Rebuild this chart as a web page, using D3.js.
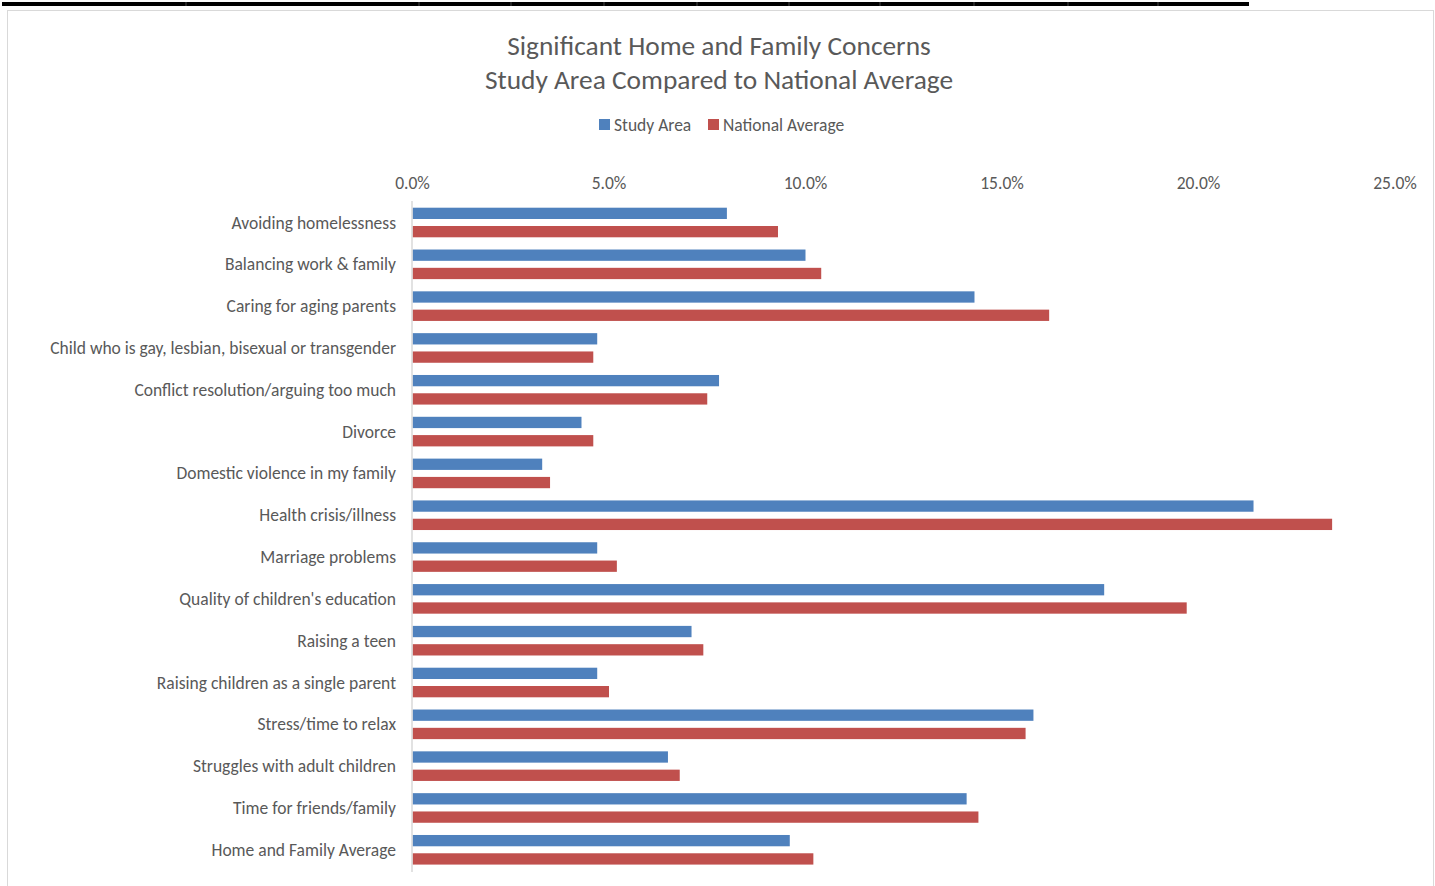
<!DOCTYPE html>
<html lang="en">
	<head>
	<meta charset="UTF-8">
		<title>Significant Home and Family Concerns</title>
		<style>
			body { margin: 0; background: #fff; }
			text { font-family: Carlito, Calibri, Lato, sans-serif; fill: #595959; }
		</style>
	</head>
	<body>
		<svg id='chart'></svg>

		<script src='https://d3js.org/d3.v7.min.js'></script>
		<script>
			const categories = [
				'Avoiding homelessness',
				'Balancing work & family',
				'Caring for aging parents',
				'Child who is gay, lesbian, bisexual or transgender',
				'Conflict resolution/arguing too much',
				'Divorce',
				'Domestic violence in my family',
				'Health crisis/illness',
				'Marriage problems',
				"Quality of children's education",
				'Raising a teen',
				'Raising children as a single parent',
				'Stress/time to relax',
				'Struggles with adult children',
				'Time for friends/family',
				'Home and Family Average'
			];
			const studyArea = [8.0, 10.0, 14.3, 4.7, 7.8, 4.3, 3.3, 21.4, 4.7, 17.6, 7.1, 4.7, 15.8, 6.5, 14.1, 9.6];
			const nationalAverage = [9.3, 10.4, 16.2, 4.6, 7.5, 4.6, 3.5, 23.4, 5.2, 19.7, 7.4, 5.0, 15.6, 6.8, 14.4, 10.2];
			const seriesNames = ['Study Area', 'National Average'];
			const xTicks = [0, 5, 10, 15, 20, 25];
			const colors = ['#4f81bd', '#c0504d'];

			const width = 1435;
			const height = 886;
			const labelSize = '17.5px';

			const svg = d3.select('#chart')
				.attr('width', width)
				.attr('height', height);

			// spreadsheet strip above the chart
			svg.append('rect')
				.attr('x', 2).attr('y', 2)
				.attr('width', 1247).attr('height', 4)
				.attr('fill', '#000');
			[186, 419, 511, 604, 697, 789, 880, 974, 1068, 1158].forEach(x => {
				svg.append('line')
					.attr('x1', x).attr('x2', x)
					.attr('y1', 2).attr('y2', 6)
					.attr('stroke', '#777').attr('stroke-width', 0.6);
			});

			// chart area border
			svg.append('rect')
				.attr('x', 7.5).attr('y', 10.5)
				.attr('width', 1426).attr('height', 880)
				.attr('fill', '#fff')
				.attr('stroke', '#d9d9d9');

			// title
			const title = svg.append('text')
				.attr('x', 719)
				.attr('text-anchor', 'middle')
				.style('font-size', '27.4px');
			title.append('tspan').attr('x', 719).attr('y', 55).text('Significant Home and Family Concerns');
			title.append('tspan').attr('x', 719).attr('y', 89).text('Study Area Compared to National Average');

			// legend
			const legendX = [599, 708];
			seriesNames.forEach((name, i) => {
				svg.append('rect')
					.attr('x', legendX[i]).attr('y', 119)
					.attr('width', 11).attr('height', 11)
					.attr('fill', colors[i]);
				svg.append('text')
					.attr('x', legendX[i] + 15).attr('y', 130.5)
					.style('font-size', labelSize)
					.text(name);
			});

			const xScale = d3.scaleLinear()
				.domain([0, 25])
				.range([412.5, 1395]);

			const yScale = d3.scaleBand()
				.domain(categories)
				.range([201.6, 870.7]);

			const subScale = d3.scaleBand()
				.domain(seriesNames)
				.range([6.1, 35.7])
				.paddingInner(0.3825);

			// x tick labels (top)
			svg.append('g')
				.selectAll('text')
				.data(xTicks)
				.enter().append('text')
				.attr('x', d => xScale(d))
				.attr('y', 189)
				.attr('text-anchor', 'middle')
				.style('font-size', labelSize)
				.text(d => d3.format('.1f')(d) + '%');

			// category labels
			svg.append('g')
				.selectAll('text')
				.data(categories)
				.enter().append('text')
				.attr('x', 396)
				.attr('y', d => yScale(d) + yScale.bandwidth() / 2 + 6)
				.attr('text-anchor', 'end')
				.style('font-size', labelSize)
				.text(d => d);

			// bars
			const rows = categories.map((c, i) => ({ cat: c, values: [studyArea[i], nationalAverage[i]] }));
			const groups = svg.append('g')
				.selectAll('g')
				.data(rows)
				.enter().append('g')
				.attr('transform', d => `translate(0, ${yScale(d.cat)})`);

			groups.selectAll('rect')
				.data(d => d.values.map((v, i) => ({ series: seriesNames[i], value: v, i })))
				.enter().append('rect')
				.attr('x', xScale(0))
				.attr('y', d => subScale(d.series))
				.attr('width', d => xScale(d.value) - xScale(0))
				.attr('height', subScale.bandwidth())
				.attr('fill', d => colors[d.i]);

			// vertical axis line
			svg.append('line')
				.attr('x1', 412).attr('x2', 412)
				.attr('y1', 201).attr('y2', 872)
				.attr('stroke', '#d9d9d9')
				.attr('stroke-width', 1.5);
		</script>
	</body>
</html>
